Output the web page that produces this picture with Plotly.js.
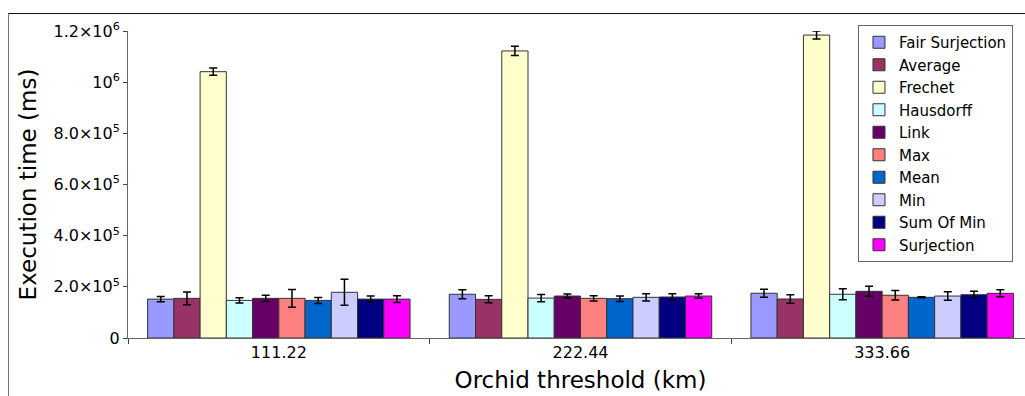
<!DOCTYPE html>
<html>
<head>
<meta charset="utf-8">
<script src="https://cdn.plot.ly/plotly-3.0.1.min.js"></script>
<style>
  html, body { margin: 0; padding: 0; background: #fff; overflow: hidden; width: 1025px; height: 396px; }
  #chart { position: absolute; left: 0; top: 0; width: 1045px; height: 396px; }
  #frame { position: absolute; left: 8px; top: 13px; width: 1100px; height: 500px;
           border-top: 1px solid #111; border-left: 1px solid #777; pointer-events: none; z-index: 10; }
</style>
</head>
<body>
<div id="chart"></div>
<div id="frame"></div>
<script>
// Orchid threshold values (km)
const thresholds = ['111.22', '222.44', '333.66'];

// Distance measures
const methods = ['Fair Surjection', 'Average', 'Frechet', 'Hausdorff', 'Link',
                 'Max', 'Mean', 'Min', 'Sum Of Min', 'Surjection'];

const colors = ['#9999ff', '#993366', '#ffffcc', '#ccffff', '#660066',
                '#ff8080', '#0066cc', '#ccccff', '#000080', '#ff00ff'];

// Mean execution time (ms) per threshold
const fairSurjection = [152000, 171000, 175000];
const average        = [155000, 151000, 152500];
const frechet        = [1041000, 1122000, 1184000];
const hausdorff      = [147000, 156000, 171000];
const link           = [155000, 164000, 182500];
const maxVals        = [155000, 155000, 167000];
const mean           = [147000, 153600, 159000];
const minVals        = [178600, 159000, 164000];
const sumOfMin       = [152000, 160300, 169300];
const surjection     = [152000, 164000, 174700];

// Standard deviation (ms)
const fairSurjectionErr = [10500, 17600, 15600];
const averageErr        = [25000, 13700, 16300];
const frechetErr        = [14000, 18000, 15600];
const hausdorffErr      = [10000, 14000, 21500];
const linkErr           = [12500, 7800, 19500];
const maxErr            = [34500, 10400, 18900];
const meanErr           = [11700, 11000, 2000];
const minErr            = [51000, 14300, 16300];
const sumOfMinErr       = [11700, 12400, 13700];
const surjectionErr     = [13000, 9100, 13700];

const values = [fairSurjection, average, frechet, hausdorff, link, maxVals, mean, minVals, sumOfMin, surjection];
const errors = [fairSurjectionErr, averageErr, frechetErr, hausdorffErr, linkErr, maxErr, meanErr, minErr, sumOfMinErr, surjectionErr];

// y-axis ticks
const yTickVals = [0, 200000, 400000, 600000, 800000, 1000000, 1200000];
const yTickText = ['0', '2.0×10<sup>5</sup>', '4.0×10<sup>5</sup>', '6.0×10<sup>5</sup>',
                   '8.0×10<sup>5</sup>', '10<sup>6</sup>', '1.2×10<sup>6</sup>'];

const traces = methods.map((name, i) => ({
  type: 'bar',
  name: name,
  x: thresholds,
  y: values[i],
  marker: { color: colors[i], line: { color: '#333', width: 1 } },
  error_y: { type: 'data', array: errors[i], visible: true, color: '#000', thickness: 1.5, width: 4 }
}));

const font = 'DejaVu Sans, sans-serif';

const layout = {
  width: 1045,
  height: 396,
  margin: { l: 128, r: 12, t: 31, b: 58 },
  paper_bgcolor: '#fff',
  plot_bgcolor: '#fff',
  font: { family: font, size: 16, color: '#000' },
  barmode: 'group',
  bargap: 0.13,
  bargroupgap: 0,
  showlegend: true,
  legend: {
    x: 0.8066, y: 1.0195, xanchor: 'left', yanchor: 'top',
    bgcolor: '#fff', bordercolor: '#666', borderwidth: 1,
    font: { family: font, size: 15, color: '#000' },
    maxheight: 400,
    traceorder: 'normal'
  },
  xaxis: {
    type: 'category',
    range: [-0.5, 2.5],
    showline: true, linecolor: '#666', linewidth: 1,
    ticks: 'outside', tickson: 'boundaries', ticklen: 5, tickcolor: '#444',
    showgrid: false, zeroline: false,
    tickfont: { family: font, size: 16, color: '#000' },
    title: { text: 'Orchid threshold (km)', font: { family: font, size: 23, color: '#000' }, standoff: 10 }
  },
  yaxis: {
    range: [0, 1200000],
    tickvals: yTickVals, ticktext: yTickText,
    showline: true, linecolor: '#666', linewidth: 1,
    ticks: 'outside', ticklen: 4, tickcolor: '#444',
    showgrid: false, zeroline: false,
    tickfont: { family: font, size: 16, color: '#000' },
    title: { text: 'Execution time (ms)', font: { family: font, size: 23, color: '#000' }, standoff: 10 }
  }
};

Plotly.newPlot('chart', traces, layout, { displayModeBar: false, staticPlot: true });
</script>
</body>
</html>
